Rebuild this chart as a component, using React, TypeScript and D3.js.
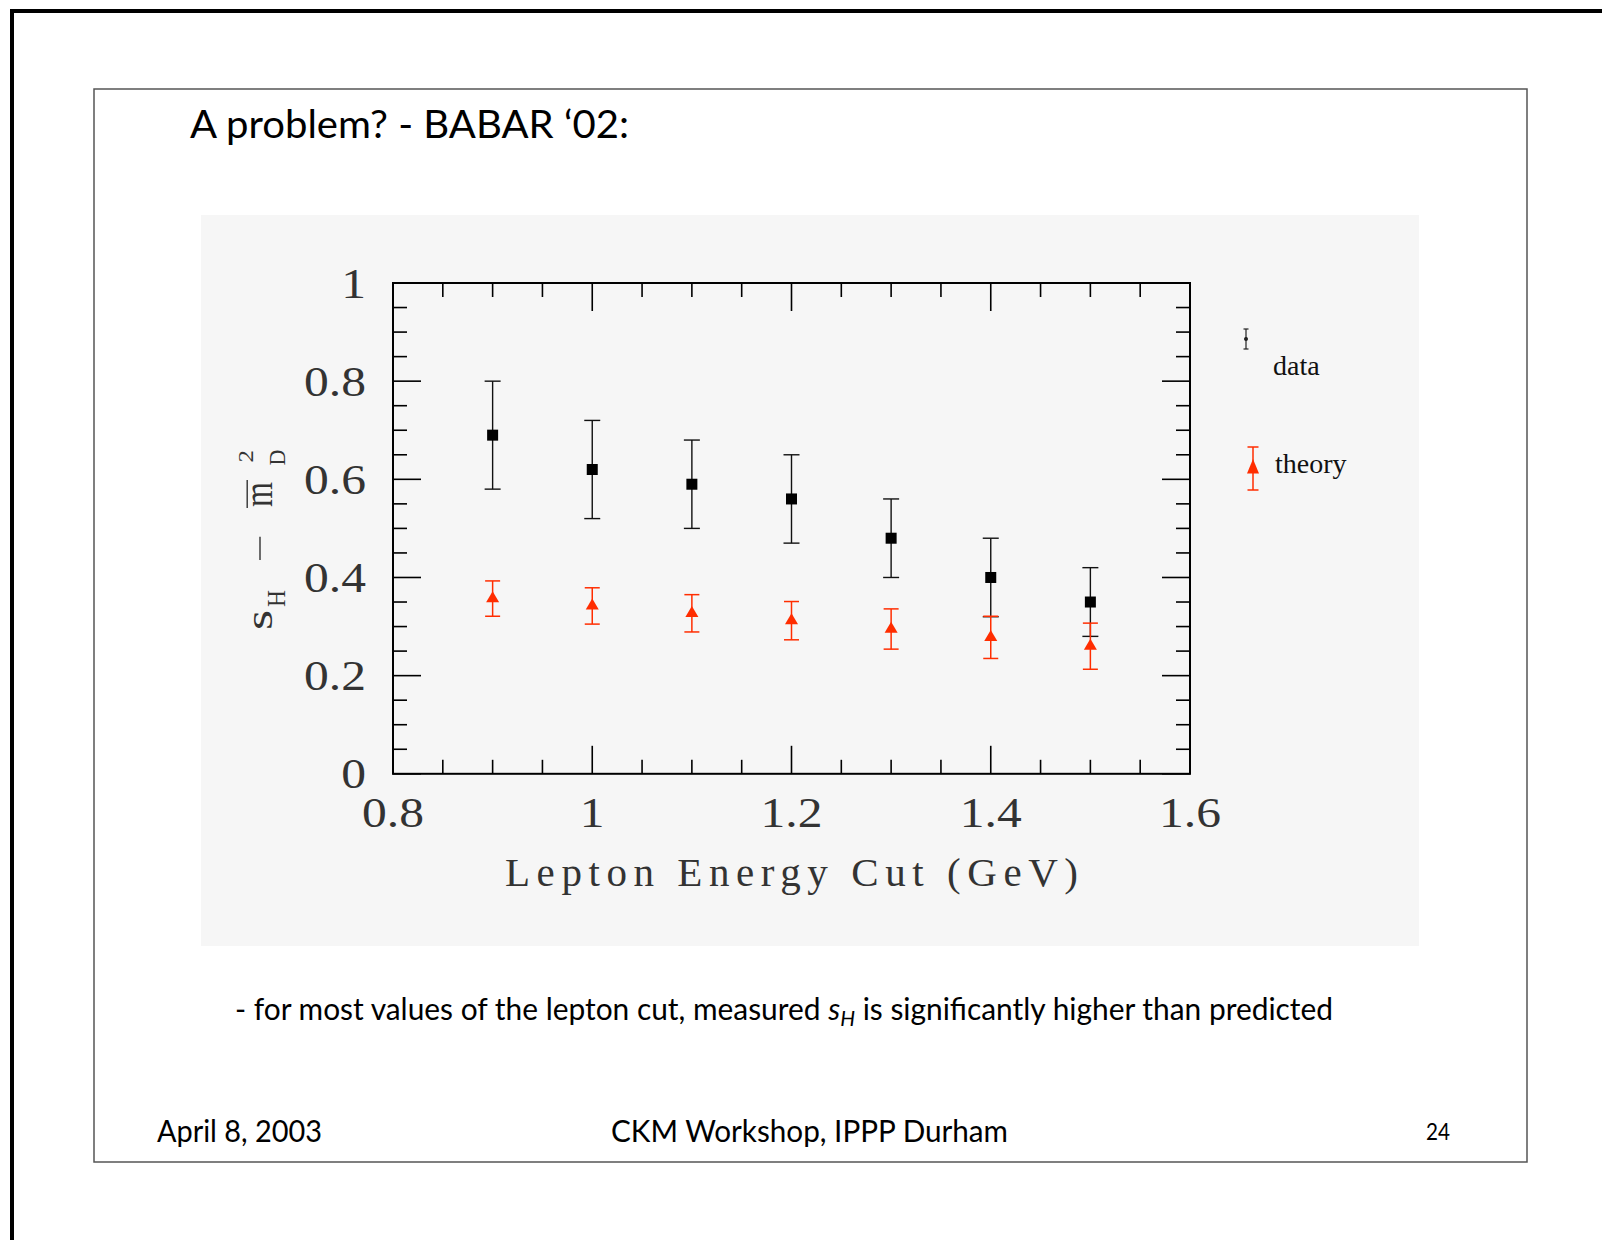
import React from "react";
import * as d3 from "d3";

// ---- data ----
const cuts = [0.9, 1.0, 1.1, 1.2, 1.3, 1.4, 1.5];
const dataValues = [0.69, 0.62, 0.59, 0.56, 0.48, 0.40, 0.35];
const dataErrors = [0.11, 0.10, 0.09, 0.09, 0.08, 0.08, 0.07];
const theoryValues = [0.357, 0.342, 0.327, 0.312, 0.295, 0.278, 0.260];
const theoryErrors = [0.036, 0.037, 0.038, 0.039, 0.041, 0.043, 0.047];

const xTickValues = [0.8, 1.0, 1.2, 1.4, 1.6];
const xTickLabels = ["0.8", "1", "1.2", "1.4", "1.6"];
const yTickValues = [0, 0.2, 0.4, 0.6, 0.8, 1.0];
const yTickLabels = ["0", "0.2", "0.4", "0.6", "0.8", "1"];

const legendLabels = ["data", "theory"];
const titleText = "A problem? - BABAR \u201802:";
const xTitle = "Lepton Energy Cut (GeV)";

const W = 1602;
const H = 1240;
const PL = 393, PR = 1190, PT = 283, PB = 773.8;
const RED = "#ff2d00";
const serif = "'Liberation Serif', 'Times New Roman', serif";
const sans = "Lato, 'Open Sans', sans-serif";
const AXIS_TEXT = "#333";

export default function App() {
  const x = d3.scaleLinear().domain([0.8, 1.6]).range([PL, PR]);
  const y = d3.scaleLinear().domain([0, 1]).range([PB, PT]);

  const xMinor = x.ticks(16);
  const yMinor = y.ticks(20);
  const isMajor = (v: number, arr: number[]) => arr.some((m) => Math.abs(m - v) < 1e-9);

  const MAJ = 28, MIN = 14;
  const triH = 11, triW = 13;
  const tri = (cx: number, cy: number) =>
    d3.line()([
      [cx, cy - (2 / 3) * triH],
      [cx + triW / 2, cy + triH / 3],
      [cx - triW / 2, cy + triH / 3],
    ]) + "Z";

  return (
    <svg
      width={W}
      height={H}
      style={{ position: "absolute", left: 0, top: 0, background: "#fff" }}
    >
      {/* outer frame */}
      <rect x={0} y={0} width={W} height={H} fill="#fff" />
      <path d={`M12,${H + 10} L12,11 L${W + 10},11`} fill="none" stroke="#000" strokeWidth={4} />
      {/* slide frame */}
      <rect x={94} y={89} width={1433} height={1073} fill="none" stroke="#555" strokeWidth={1.5} />

      {/* title */}
      <text x={190} y={138} fontFamily={sans} fontSize={39} textLength={439} lengthAdjust="spacingAndGlyphs" fill="#000">
        {titleText}
      </text>

      {/* plot panel */}
      <rect x={201} y={215} width={1218} height={731} fill="#f6f6f6" />

      {/* ticks */}
      <g stroke="#000" strokeWidth={1.6}>
        {xMinor.map((v, i) => {
          const len = isMajor(v, xTickValues) ? MAJ : MIN;
          const px = x(v);
          return (
            <g key={"xt" + i}>
              <line x1={px} x2={px} y1={PB} y2={PB - len} />
              <line x1={px} x2={px} y1={PT} y2={PT + len} />
            </g>
          );
        })}
        {yMinor.map((v, i) => {
          const len = isMajor(v, yTickValues) ? MAJ : MIN;
          const py = y(v);
          return (
            <g key={"yt" + i}>
              <line x1={PL} x2={PL + len} y1={py} y2={py} />
              <line x1={PR} x2={PR - len} y1={py} y2={py} />
            </g>
          );
        })}
      </g>
      <rect x={PL} y={PT} width={PR - PL} height={PB - PT} fill="none" stroke="#000" strokeWidth={2} />

      {/* tick labels */}
      <g fontFamily={serif} fontSize={42} fill={AXIS_TEXT}>
        {xTickValues.map((v, i) => (
          <text key={"xl" + i} transform={`translate(${x(v)},${826.7}) scale(1.18,1)`} textAnchor="middle">
            {xTickLabels[i]}
          </text>
        ))}
        {yTickValues.map((v, i) => (
          <text key={"yl" + i} transform={`translate(${366},${y(v) + 14.6}) scale(1.18,1)`} textAnchor="end">
            {yTickLabels[i]}
          </text>
        ))}
      </g>

      {/* x title */}
      <text
        x={(PL + PR) / 2}
        y={886}
        fontFamily={serif}
        fontSize={41}
        fill={AXIS_TEXT}
        textAnchor="middle"
        textLength={573}
        lengthAdjust="spacing"
      >
        {xTitle}
      </text>

      {/* y title (rotated) */}
      <g transform="translate(271.7,630) rotate(-90)" fontFamily={serif} fill={AXIS_TEXT}>
        <text x={0} y={0} fontSize={37} textLength={20} lengthAdjust="spacingAndGlyphs">s</text>
        <text x={23} y={13.3} fontSize={25} textLength={17} lengthAdjust="spacingAndGlyphs">H</text>
        <line x1={70} x2={93.3} y1={-11.7} y2={-11.7} stroke={AXIS_TEXT} strokeWidth={1.4} />
        <text x={123} y={0} fontSize={40} textLength={25} lengthAdjust="spacingAndGlyphs">m</text>
        <line x1={122} x2={150} y1={-24.5} y2={-24.5} stroke={AXIS_TEXT} strokeWidth={1.4} />
        <text x={167.5} y={-18.5} fontSize={20} textLength={12.5} lengthAdjust="spacingAndGlyphs">2</text>
        <text x={164.5} y={13.5} fontSize={23} textLength={16} lengthAdjust="spacingAndGlyphs">D</text>
      </g>

      {/* data points */}
      <g>
        {cuts.map((c, i) => {
          const px = x(c);
          const top = y(dataValues[i] + dataErrors[i]);
          const bot = y(dataValues[i] - dataErrors[i]);
          const py = y(dataValues[i]);
          return (
            <g key={"d" + i} stroke="#111" strokeWidth={1.4}>
              <line x1={px} x2={px} y1={top} y2={bot} />
              <line x1={px - 8} x2={px + 8} y1={top} y2={top} />
              <line x1={px - 8} x2={px + 8} y1={bot} y2={bot} />
              <rect x={px - 5.5} y={py - 5.5} width={11} height={11} fill="#000" stroke="none" />
            </g>
          );
        })}
      </g>

      {/* theory points */}
      <g>
        {cuts.map((c, i) => {
          const px = x(c);
          const top = y(theoryValues[i] + theoryErrors[i]);
          const bot = y(theoryValues[i] - theoryErrors[i]);
          const py = y(theoryValues[i]);
          return (
            <g key={"t" + i} stroke={RED} strokeWidth={1.5}>
              <line x1={px} x2={px} y1={top} y2={bot} />
              <line x1={px - 7.5} x2={px + 7.5} y1={top} y2={top} />
              <line x1={px - 7.5} x2={px + 7.5} y1={bot} y2={bot} />
              <path d={tri(px, py)} fill={RED} stroke="none" />
            </g>
          );
        })}
      </g>

      {/* legend */}
      <g>
        <g stroke="#222" strokeWidth={1.2}>
          <line x1={1246} x2={1246} y1={329} y2={349} />
          <line x1={1243.5} x2={1248.5} y1={329} y2={329} />
          <line x1={1243.5} x2={1248.5} y1={349} y2={349} />
          <circle cx={1246} cy={339} r={1.4} fill="#222" />
        </g>
        <text x={1273} y={375} fontFamily={serif} fontSize={28} fill="#111">{legendLabels[0]}</text>
        <g stroke={RED} strokeWidth={1.5}>
          <line x1={1253} x2={1253} y1={447} y2={490} />
          <line x1={1247.5} x2={1258.5} y1={447} y2={447} />
          <line x1={1247.5} x2={1258.5} y1={490} y2={490} />
          <path
            d={d3.line()([[1253, 459], [1259, 473.5], [1247, 473.5]]) + "Z"}
            fill={RED}
            stroke="none"
          />
        </g>
        <text x={1275} y={473} fontFamily={serif} fontSize={28} fill="#111">{legendLabels[1]}</text>
      </g>

      {/* comment text */}
      <text x={235} y={1020} fontFamily={sans} fontSize={30} fill="#000" textLength={1098} lengthAdjust="spacingAndGlyphs">
        {"- for most values of the lepton cut, measured "}
        <tspan fontStyle="italic">s</tspan>
        <tspan fontStyle="italic" fontSize={21} dy={6}>H</tspan>
        <tspan dy={-6}>{" is significantly higher than predicted"}</tspan>
      </text>

      {/* footer */}
      <text x={157} y={1142} fontFamily={sans} fontSize={30} fill="#000" textLength={165} lengthAdjust="spacingAndGlyphs">
        April 8, 2003
      </text>
      <text x={611} y={1142} fontFamily={sans} fontSize={30} fill="#000" textLength={397} lengthAdjust="spacingAndGlyphs">
        CKM Workshop, IPPP Durham
      </text>
      <text x={1426} y={1140} fontFamily={sans} fontSize={23} fill="#000" textLength={24} lengthAdjust="spacingAndGlyphs">
        24
      </text>
    </svg>
  );
}
